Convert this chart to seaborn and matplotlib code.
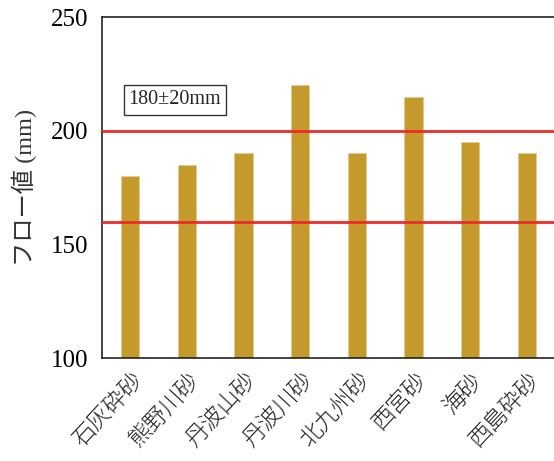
import matplotlib
matplotlib.use("Agg")
import matplotlib.pyplot as plt
import seaborn as sns
import pandas as pd

categories = ["石灰砕砂", "熊野川砂", "丹波山砂", "丹波川砂", "北九州砂", "西宮砂", "海砂", "西島砕砂"]
flow_values = [180, 185, 190, 220, 190, 215, 195, 190]
limit_lines = [160, 200]
yticks = [100, 150, 200, 250]

sns.set_theme(style="white")
plt.rcParams['font.family'] = ['Liberation Serif', 'Noto Sans CJK JP', 'DejaVu Sans']

df = pd.DataFrame({"cat": categories, "flow": flow_values})

fig = plt.figure(figsize=(5.54, 4.61), dpi=100)
ax = fig.add_axes([0.184, 0.2234, 0.818, 0.7397])
sns.barplot(data=df, x="cat", y="flow", color="#C59A2D", saturation=1, width=0.32, ax=ax)
for p in ax.patches:
    p.set_edgecolor("#E3CD93")
    p.set_linewidth(0.6)
for v in limit_lines:
    ax.axhline(v, color="#EE2A2A", lw=2, zorder=3)

ax.set_ylim(100, 250)
ax.set_xlim(-0.5, 7.5)
ax.set_yticks(yticks)
ax.tick_params(axis='y', direction='in', length=5, width=1, labelsize=18, pad=10, colors='black')
ax.tick_params(axis='x', length=0, pad=7)
ax.set_xticks(range(len(categories)))
ax.set_xticklabels(categories, rotation=47, ha='right', rotation_mode='anchor',
                   fontsize=16.5, family=['Noto Sans CJK JP'], fontweight='light', color='#222222')
for lab in ax.get_yticklabels():
    lab.set_color('black')
ax.set_xlabel("")
ax.set_ylabel("フロー値 (mm)", fontsize=17.5, labelpad=10, color='#333333')

for s in ['left', 'bottom', 'top']:
    ax.spines[s].set_color('#222222')
    ax.spines[s].set_linewidth(1.2)
ax.spines['right'].set_visible(False)

ax.text(0.79, 213.5, "180±20mm", ha='center', va='center', fontsize=14.5,
        bbox=dict(boxstyle='square,pad=0.25', fc='white', ec='#333333', lw=1))

fig.savefig("out.png", dpi=100)
